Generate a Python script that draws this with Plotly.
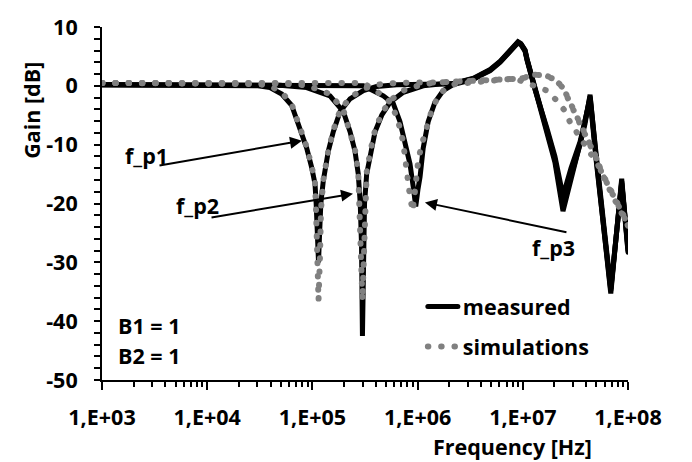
import plotly.graph_objects as go

# ---- measured responses (three notch settings) ----
FREQ_M1 = [1e3, 8.5e3, 2.05e4, 3.04e4, 3.95e4, 5.11e4, 6.35e4, 7.1e4, 7.91e4, 8.83e4,
           9.85e4, 1.059e5, 1.086e5, 1.116e5, 1.143e5, 1.171e5, 1.203e5, 1.27e5, 1.417e5,
           1.58e5, 1.83e5, 2.28e5, 3.05e5, 4.08e5, 6.32e5, 1.63e6, 2.2e6, 3.4e6, 3.9e6,
           4.9e6, 6.1e6, 7.5e6, 8.4e6, 9.0e6, 9.6e6, 1.05e7, 1.1e7, 1.31e7, 1.69e7, 2.02e7,
           2.41e7, 2.87e7, 3.5e7, 3.9e7, 4.36e7, 4.97e7, 6.86e7, 8.71e7, 1.0e8]
GAIN_M1 = [0.2, 0.2, 0.1, 0.0, -0.3, -1.4, -3.3, -5.6, -7.8, -10.6,
           -13.9, -16.7, -20.0, -25.0, -30.0, -25.0, -20.0, -16.1, -11.1,
           -7.8, -4.4, -2.2, -0.8, -0.1, 0.2, 0.3, 0.4, 1.2, 1.8,
           2.7, 4.1, 5.9, 7.0, 7.4, 7.1, 6.0, 4.4, -0.6, -7.6, -13.0,
           -21.3, -16.0, -10.5, -6.5, -1.5, -12.0, -35.3, -15.8, -28.0]

FREQ_M2 = [1e3, 2.05e4, 4.92e4, 8.83e4, 1.47e5, 1.97e5, 2.28e5, 2.54e5, 2.73e5, 2.85e5,
           2.93e5, 2.99e5, 3.05e5, 3.13e5, 3.28e5, 3.53e5, 3.94e5, 4.56e5, 5.47e5, 7.32e5,
           1.13e6, 1.63e6, 2.2e6, 3.4e6, 3.9e6, 4.9e6, 6.1e6, 7.5e6, 8.4e6, 9.0e6, 9.6e6,
           1.05e7, 1.1e7, 1.31e7, 1.69e7, 2.02e7, 2.41e7, 2.87e7, 3.5e7, 3.9e7, 4.36e7,
           4.97e7, 6.86e7, 8.71e7, 1.0e8]
GAIN_M2 = [0.2, 0.2, 0.1, -0.3, -1.7, -4.4, -7.8, -11.1, -15.0, -20.0,
           -27.0, -42.5, -27.0, -20.0, -15.0, -11.7, -7.8, -5.0, -2.8, -1.1,
           0.0, 0.3, 0.4, 1.3, 1.9, 2.8, 4.2, 6.0, 7.1, 7.5, 7.2,
           6.1, 4.5, -0.5, -7.3, -12.5, -20.0, -15.0, -10.0, -6.0, -1.8,
           -11.5, -34.5, -16.5, -27.5]

FREQ_M3 = [1e3, 7.62e4, 1.47e5, 3.05e5, 4.72e5, 5.87e5, 6.8e5, 7.59e5, 8.47e5, 9.1e5,
           9.6e5, 1.01e6, 1.055e6, 1.13e6, 1.26e6, 1.46e6, 1.75e6, 2.18e6, 3.4e6, 3.9e6,
           4.9e6, 6.1e6, 7.5e6, 8.4e6, 9.0e6, 9.6e6, 1.05e7, 1.1e7, 1.31e7, 1.69e7, 2.02e7,
           2.41e7, 2.87e7, 3.5e7, 3.9e7, 4.36e7, 4.97e7, 6.86e7, 8.71e7, 1.0e8]
GAIN_M3 = [0.2, 0.2, 0.2, 0.0, -1.7, -3.0, -6.1, -9.4, -13.3, -17.2,
           -20.5, -17.5, -15.5, -10.6, -6.1, -2.8, -0.8, 0.2, 1.1, 1.7,
           2.6, 4.0, 5.8, 6.9, 7.3, 7.0, 5.9, 4.3, -0.7, -7.1, -12.0,
           -18.7, -14.0, -9.5, -5.6, -2.2, -12.5, -34.8, -16.2, -28.3]

# ---- simulated responses ----
FREQ_S1 = [1e3, 8.5e3, 2.05e4, 3.04e4, 3.95e4, 5.11e4, 6.35e4, 7.1e4, 7.91e4, 8.83e4,
           9.85e4, 1.059e5, 1.082e5, 1.106e5, 1.143e5, 1.181e5, 1.207e5, 1.27e5, 1.417e5,
           1.58e5, 1.83e5, 2.28e5, 3.05e5, 4.08e5, 6.32e5, 1.63e6, 3.9e6, 6.0e6, 8.5e6,
           1.0e7, 1.17e7, 1.5e7, 1.95e7, 2.4e7, 2.8e7, 3.15e7, 3.6e7, 4.2e7, 5.0e7, 5.6e7,
           6.3e7, 7.0e7, 7.8e7, 8.95e7, 1.0e8]
GAIN_S1 = [0.5, 0.5, 0.4, 0.3, 0.0, -1.1, -3.1, -5.4, -7.6, -10.4,
           -13.7, -16.5, -21.0, -29.0, -36.5, -29.0, -21.0, -16.0, -11.0,
           -7.6, -4.2, -2.0, -0.5, 0.2, 0.5, 0.6, 0.8, 1.0, 1.2,
           1.3, 1.7, 1.9, 1.2, -0.3, -2.8, -4.6, -6.4, -9.0, -12.3, -14.7,
           -16.6, -18.2, -19.8, -21.9, -23.6]

FREQ_S2 = [1e3, 2.05e4, 4.92e4, 8.83e4, 1.47e5, 1.97e5, 2.28e5, 2.54e5, 2.73e5, 2.83e5,
           2.893e5, 2.99e5, 3.09e5, 3.158e5, 3.28e5, 3.53e5, 3.94e5, 4.56e5, 5.47e5, 7.32e5,
           1.13e6, 1.63e6, 3.9e6, 6.0e6, 8.5e6, 1.0e7, 1.17e7, 1.5e7, 1.95e7, 2.4e7,
           2.8e7, 3.15e7, 3.6e7, 4.2e7, 5.0e7, 5.6e7, 6.3e7, 7.0e7, 7.8e7, 8.95e7, 1.0e8]
GAIN_S2 = [0.5, 0.5, 0.4, 0.1, -1.4, -4.1, -7.5, -10.8, -14.7, -21.0,
           -29.0, -36.5, -29.0, -21.0, -14.7, -11.4, -7.5, -4.7, -2.5, -0.8,
           0.3, 0.6, 0.8, 1.0, 1.2, 1.3, 1.8, 2.0, 1.3, -0.2,
           -2.7, -4.5, -6.3, -8.9, -12.2, -14.6, -16.5, -18.1, -19.7, -21.8, -23.5]

FREQ_S3 = [1e3, 1.47e5, 3.05e5, 4.54e5, 5.64e5, 6.52e5, 7.27e5, 7.87e5, 8.17e5, 8.47e5,
           9.0e5, 9.45e5, 1.017e6, 1.094e6, 1.203e6, 1.362e6, 1.574e6, 1.82e6, 2.27e6, 3.9e6,
           6.0e6, 8.5e6, 1.0e7, 1.3e7, 1.69e7, 2.1e7, 2.5e7, 2.8e7, 3.2e7, 3.76e7,
           4.4e7, 5.0e7, 5.6e7, 6.3e7, 7.0e7, 7.8e7, 8.95e7, 1.0e8]
GAIN_S3 = [0.5, 0.5, 0.5, -1.5, -3.0, -6.0, -9.4, -14.4, -17.0, -18.9,
           -21.3, -17.0, -12.5, -10.0, -7.2, -4.2, -1.7, -0.6, 0.3, 0.8,
           1.0, 1.2, 0.7, 0.0, -0.8, -2.5, -4.2, -6.1, -7.8, -9.7,
           -11.5, -12.8, -14.8, -16.8, -18.4, -20.0, -22.1, -23.8]

X_TICKS = [1e3, 1e4, 1e5, 1e6, 1e7, 1e8]
X_TICK_TEXT = ["1,E+03", "1,E+04", "1,E+05", "1,E+06", "1,E+07", "1,E+08"]
Y_TICKS = [-50, -40, -30, -20, -10, 0, 10]
Y_TICK_TEXT = ["-50", "-40", "-30", "-20", "-10", "0", "10"]

FONT = "Open Sans"
BLACK = "#000000"
GREY = "#808080"

fig = go.Figure()

measured = [(FREQ_M1, GAIN_M1, True), (FREQ_M2, GAIN_M2, False), (FREQ_M3, GAIN_M3, False)]
for f, g, show in measured:
    fig.add_trace(go.Scatter(
        x=f, y=g, mode="lines", name="measured", legendgroup="measured",
        showlegend=show, line=dict(color=BLACK, width=5)))

simulated = [(FREQ_S1, GAIN_S1, True), (FREQ_S2, GAIN_S2, False), (FREQ_S3, GAIN_S3, False)]
for f, g, show in simulated:
    fig.add_trace(go.Scatter(
        x=f, y=g, mode="lines", name="simulations", legendgroup="simulations",
        showlegend=show, line=dict(color=GREY, width=6, dash="0.5px,12.8px")))

minor_x = [m * 10 ** e for e in range(3, 8) for m in range(2, 10)]

tickfont = dict(family=FONT, size=21.5, color=BLACK, weight="bold")

fig.update_xaxes(
    type="log", range=[3, 8],
    tickvals=X_TICKS, ticktext=X_TICK_TEXT,
    ticks="outside", ticklen=8, tickwidth=2, tickcolor=BLACK,
    minor=dict(tickvals=minor_x, ticks="outside", ticklen=5, tickwidth=1.5, tickcolor=BLACK),
    showline=True, linecolor=BLACK, linewidth=2, showgrid=False, zeroline=False,
    tickfont=tickfont, ticklabelstandoff=9,
)
fig.update_yaxes(
    range=[-50, 10], tickvals=Y_TICKS, ticktext=Y_TICK_TEXT,
    ticks="outside", ticklen=6, tickwidth=1.5, tickcolor=BLACK,
    minor=dict(dtick=2, ticks="outside", ticklen=6, tickwidth=1.5, tickcolor=BLACK),
    showline=True, linecolor=BLACK, linewidth=2, showgrid=False, zeroline=False,
    tickfont=tickfont, ticklabelstandoff=12,
)

txt = dict(family=FONT, size=21.5, color=BLACK, weight="bold")

annotations = [
    dict(text="Gain [dB]", xref="paper", yref="paper", x=-0.134, y=0.764,
         textangle=-90, showarrow=False, font=txt, xanchor="center", yanchor="middle"),
    dict(text="Frequency [Hz]", xref="paper", yref="paper", x=0.781, y=-0.189,
         showarrow=False, font=txt, xanchor="center", yanchor="middle"),
    dict(text="f_p1", xref="paper", yref="paper", x=0.0837, y=0.636,
         showarrow=False, font=txt, xanchor="center", yanchor="middle"),
    dict(text="f_p2", xref="paper", yref="paper", x=0.1815, y=0.494,
         showarrow=False, font=txt, xanchor="center", yanchor="middle"),
    dict(text="f_p3", xref="paper", yref="paper", x=0.858, y=0.375,
         showarrow=False, font=txt, xanchor="center", yanchor="middle"),
    dict(text="B1 = 1", xref="paper", yref="paper", x=0.091, y=0.155,
         showarrow=False, font=txt, xanchor="center", yanchor="middle"),
    dict(text="B2 = 1", xref="paper", yref="paper", x=0.091, y=0.069,
         showarrow=False, font=txt, xanchor="center", yanchor="middle"),
]

# arrows pointing at the three notch frequencies (tip in data coords, tail offset in px)
arrows = [
    (4.901, -9.33, -144, 25),
    (5.386, -18.33, -143, 24),
    (6.070, -19.83, 143, 30),
]
for ax_log, ay_db, dx, dy in arrows:
    annotations.append(dict(
        text="", x=ax_log, y=ay_db, xref="x", yref="y", ax=dx, ay=dy,
        axref="pixel", ayref="pixel", showarrow=True, arrowhead=2,
        arrowsize=1.2, arrowwidth=2, arrowcolor=BLACK, standoff=0, startstandoff=0))

fig.update_layout(
    width=692, height=462,
    margin=dict(l=102, r=64, t=20, b=82),
    paper_bgcolor="white", plot_bgcolor="white",
    annotations=annotations,
    showlegend=True,
    legend=dict(x=0.61, y=0.266, xanchor="left", yanchor="top",
                font=txt, bgcolor="rgba(0,0,0,0)", borderwidth=0,
                tracegroupgap=9, traceorder="grouped"),
)

# round line caps so the dotted simulation traces are drawn as round dots
ROUND_CAPS = (
    "var s=document.createElement('style');"
    "s.textContent='.scatterlayer .js-line, .legend .js-line{stroke-linecap:round;}';"
    "document.head.appendChild(s);"
)

fig.write_html("out.html", post_script=ROUND_CAPS)
